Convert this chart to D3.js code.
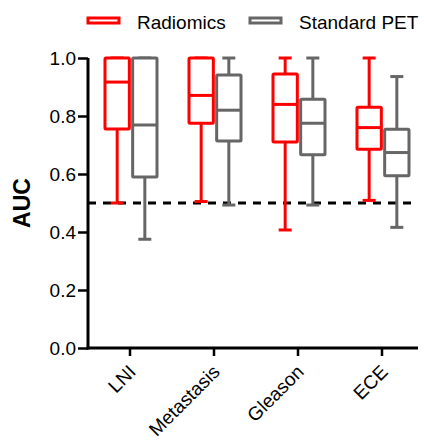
<!DOCTYPE html>
<html>
<head>
<meta charset="utf-8">
<script src="https://cdn.jsdelivr.net/npm/d3@7"></script>
<style>
  html, body { margin: 0; padding: 0; background: #fff; }
  svg { display: block; font-family: "Liberation Sans", Arial, sans-serif; }
</style>
</head>
<body>
<svg id="chart" width="424" height="442"></svg>
<script>
// Prediction tasks on the x axis
const categories = ["LNI", "Metastasis", "Gleason", "ECE"];
const seriesNames = ["Radiomics", "Standard PET"];
const seriesColors = ["#ff0000", "#666666"];

// Box summaries per task: [whisker low, Q1, median, Q3, whisker high]
const radiomicsBoxes = [
  [0.50, 0.755, 0.917, 1.00, 1.00],
  [0.505, 0.775, 0.871, 1.00, 1.00],
  [0.407, 0.710, 0.840, 0.945, 1.00],
  [0.509, 0.685, 0.760, 0.830, 1.00]
];
const standardPetBoxes = [
  [0.375, 0.590, 0.769, 1.00, 1.00],
  [0.493, 0.714, 0.820, 0.941, 1.00],
  [0.493, 0.666, 0.775, 0.858, 1.00],
  [0.416, 0.594, 0.674, 0.754, 0.936]
];
const yTicks = [0.0, 0.2, 0.4, 0.6, 0.8, 1.0];
const chanceLevel = 0.5;

const svg = d3.select("#chart");
const FONT = "Liberation Sans, Arial, sans-serif";

const y = d3.scaleLinear().domain([0, 1]).range([348, 58]);
const x = d3.scaleBand().domain(categories).range([88, 424]).padding(0);
const sub = d3.scaleBand().domain(seriesNames).range([-25, 27]).paddingInner(0.12).paddingOuter(0);

// Y axis
const yAxis = svg.append("g")
  .attr("transform", "translate(88,0)")
  .call(d3.axisLeft(y).tickValues(yTicks).tickFormat(d3.format(".1f")).tickSize(10).tickPadding(2));
yAxis.select(".domain").attr("stroke", "#000").attr("stroke-width", 3).attr("d", `M0,${y(0)+1.5}V${y(1)}`);
yAxis.selectAll(".tick line").attr("stroke", "#000").attr("stroke-width", 2.5);
yAxis.selectAll(".tick text").attr("font-size", 19).attr("fill", "#000").attr("font-family", FONT);

// X axis
const xAxis = svg.append("g")
  .attr("transform", `translate(0,${y(0)})`)
  .call(d3.axisBottom(x).tickSize(8));
xAxis.select(".domain").attr("stroke", "#000").attr("stroke-width", 3).attr("d", "M86.5,0H418");
xAxis.selectAll(".tick line").attr("stroke", "#000").attr("stroke-width", 2.5);
xAxis.selectAll(".tick text")
  .attr("font-size", 19).attr("fill", "#000").attr("font-family", FONT)
  .attr("text-anchor", "end")
  .attr("x", 0).attr("y", 0).attr("dy", 0)
  .attr("transform", "translate(7,25) rotate(-45)");

// Y axis title
svg.append("text")
  .attr("transform", `translate(30,${y(0.5)}) rotate(-90)`)
  .attr("text-anchor", "middle")
  .attr("font-size", 23).attr("font-weight", "bold").attr("font-family", FONT)
  .text("AUC");

// Chance line
svg.append("line")
  .attr("x1", 88).attr("x2", 418)
  .attr("y1", y(chanceLevel)).attr("y2", y(chanceLevel))
  .attr("stroke", "#000").attr("stroke-width", 3)
  .attr("stroke-dasharray", "8,7");

// Box plots
const allSeries = [radiomicsBoxes, standardPetBoxes];
const capW = 13;
allSeries.forEach((boxes, si) => {
  const color = seriesColors[si];
  const g = svg.append("g").attr("stroke", color).attr("stroke-width", 3).attr("fill", "none");
  boxes.forEach((b, ci) => {
    const cx = x(categories[ci]) + x.bandwidth() / 2;
    const x0 = cx + sub(seriesNames[si]);
    const w = sub.bandwidth();
    const mid = x0 + w / 2;
    const [lo, q1, med, q3, hi] = b;
    // whiskers
    g.append("line").attr("x1", mid).attr("x2", mid).attr("y1", y(q1)).attr("y2", y(lo));
    g.append("line").attr("x1", mid).attr("x2", mid).attr("y1", y(q3)).attr("y2", y(hi));
    g.append("line").attr("x1", mid - capW / 2).attr("x2", mid + capW / 2).attr("y1", y(lo)).attr("y2", y(lo));
    g.append("line").attr("x1", mid - capW / 2).attr("x2", mid + capW / 2).attr("y1", y(hi)).attr("y2", y(hi));
    // box
    g.append("rect").attr("x", x0).attr("y", y(q3)).attr("width", w).attr("height", y(q1) - y(q3))
      .attr("fill", "#fff").attr("rx", 1);
    // median
    g.append("line").attr("x1", x0).attr("x2", x0 + w).attr("y1", y(med)).attr("y2", y(med));
  });
});

// Legend
const legend = svg.append("g");
const legendX = [88, 250];
seriesNames.forEach((name, i) => {
  legend.append("rect")
    .attr("x", legendX[i]).attr("y", 18).attr("width", 31).attr("height", 5)
    .attr("fill", "#fff").attr("stroke", seriesColors[i]).attr("stroke-width", 3);
  legend.append("text")
    .attr("x", legendX[i] + 49).attr("y", 28.5)
    .attr("font-size", 19).attr("fill", "#000").attr("font-family", FONT)
    .text(name);
});
</script>
</body>
</html>
